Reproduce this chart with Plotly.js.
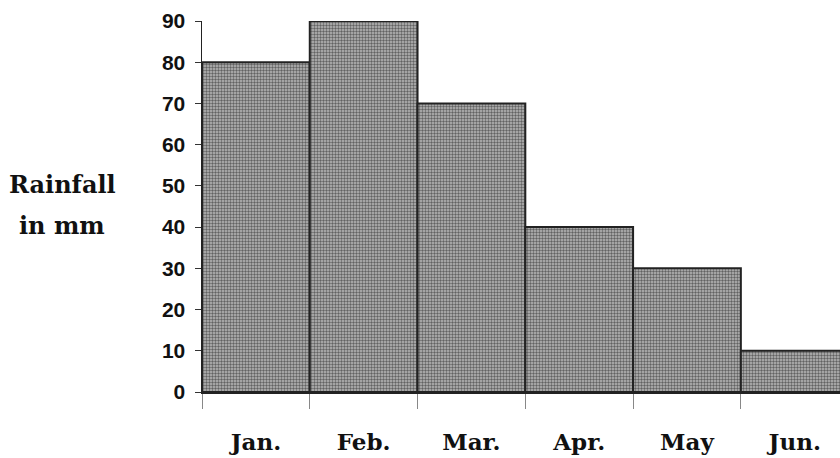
<!DOCTYPE html>
<html><head><meta charset="utf-8">
<script src="https://cdn.plot.ly/plotly-3.0.1.min.js"></script>
<style>html,body{margin:0;padding:0;background:#fff}#chart{width:840px;height:458px}</style>
</head><body><div id="chart"></div>
<script>
const months = ["Jan.", "Feb.", "Mar.", "Apr.", "May", "Jun."];
const rainfall = [80, 90, 70, 40, 30, 10];
const yTicks = [0, 10, 20, 30, 40, 50, 60, 70, 80, 90];
const yTitleLines = ["Rainfall", "in mm"];

const trace = {
  type: "bar",
  x: months,
  y: rainfall,
  cliponaxis: false,
  marker: {
    color: "#a0a0a0",
    line: {color: "#222", width: 2},
    pattern: {shape: ".", size: 3, solidity: 0.5, fgcolor: "#626262", bgcolor: "#bababa", fillmode: "replace"}
  },
  hoverinfo: "none"
};

const layout = {
  width: 840, height: 458,
  margin: {l: 202, r: 0, t: 21, b: 66},
  paper_bgcolor: "#fff", plot_bgcolor: "#fff",
  bargap: 0,
  showlegend: false,
  xaxis: {
    type: "category",
    range: [-0.5, 5.42],
    tickson: "boundaries",
    ticks: "outside", ticklen: 15, tickwidth: 1, tickcolor: "#888",
    showline: true, linecolor: "#222", linewidth: 2,
    showgrid: false, zeroline: false,
    ticklabelstandoff: 28,
    tickfont: {family: "DejaVu Serif", size: 23, color: "#111", weight: "bold"}
  },
  yaxis: {
    range: [0, 90],
    tickvals: yTicks,
    ticktext: yTicks.map(String),
    ticks: "outside", ticklen: 6, tickwidth: 1, tickcolor: "#333",
    showline: true, linecolor: "#222", linewidth: 1.5,
    showgrid: false, zeroline: false,
    ticklabelstandoff: 5,
    tickfont: {family: "Liberation Sans", size: 21, color: "#111", weight: "bold"}
  },
  annotations: yTitleLines.map((t, i) => ({
    xref: "paper", yref: "paper",
    x: -0.219, y: i === 0 ? 0.558 : 0.45, xanchor: "center", yanchor: "middle",
    text: t, showarrow: false, align: "center",
    font: {family: "DejaVu Serif", size: 24, color: "#111", weight: "bold"}
  }))
};

Plotly.newPlot("chart", [trace], layout, {displayModeBar: false, staticPlot: true});
</script></body></html>
